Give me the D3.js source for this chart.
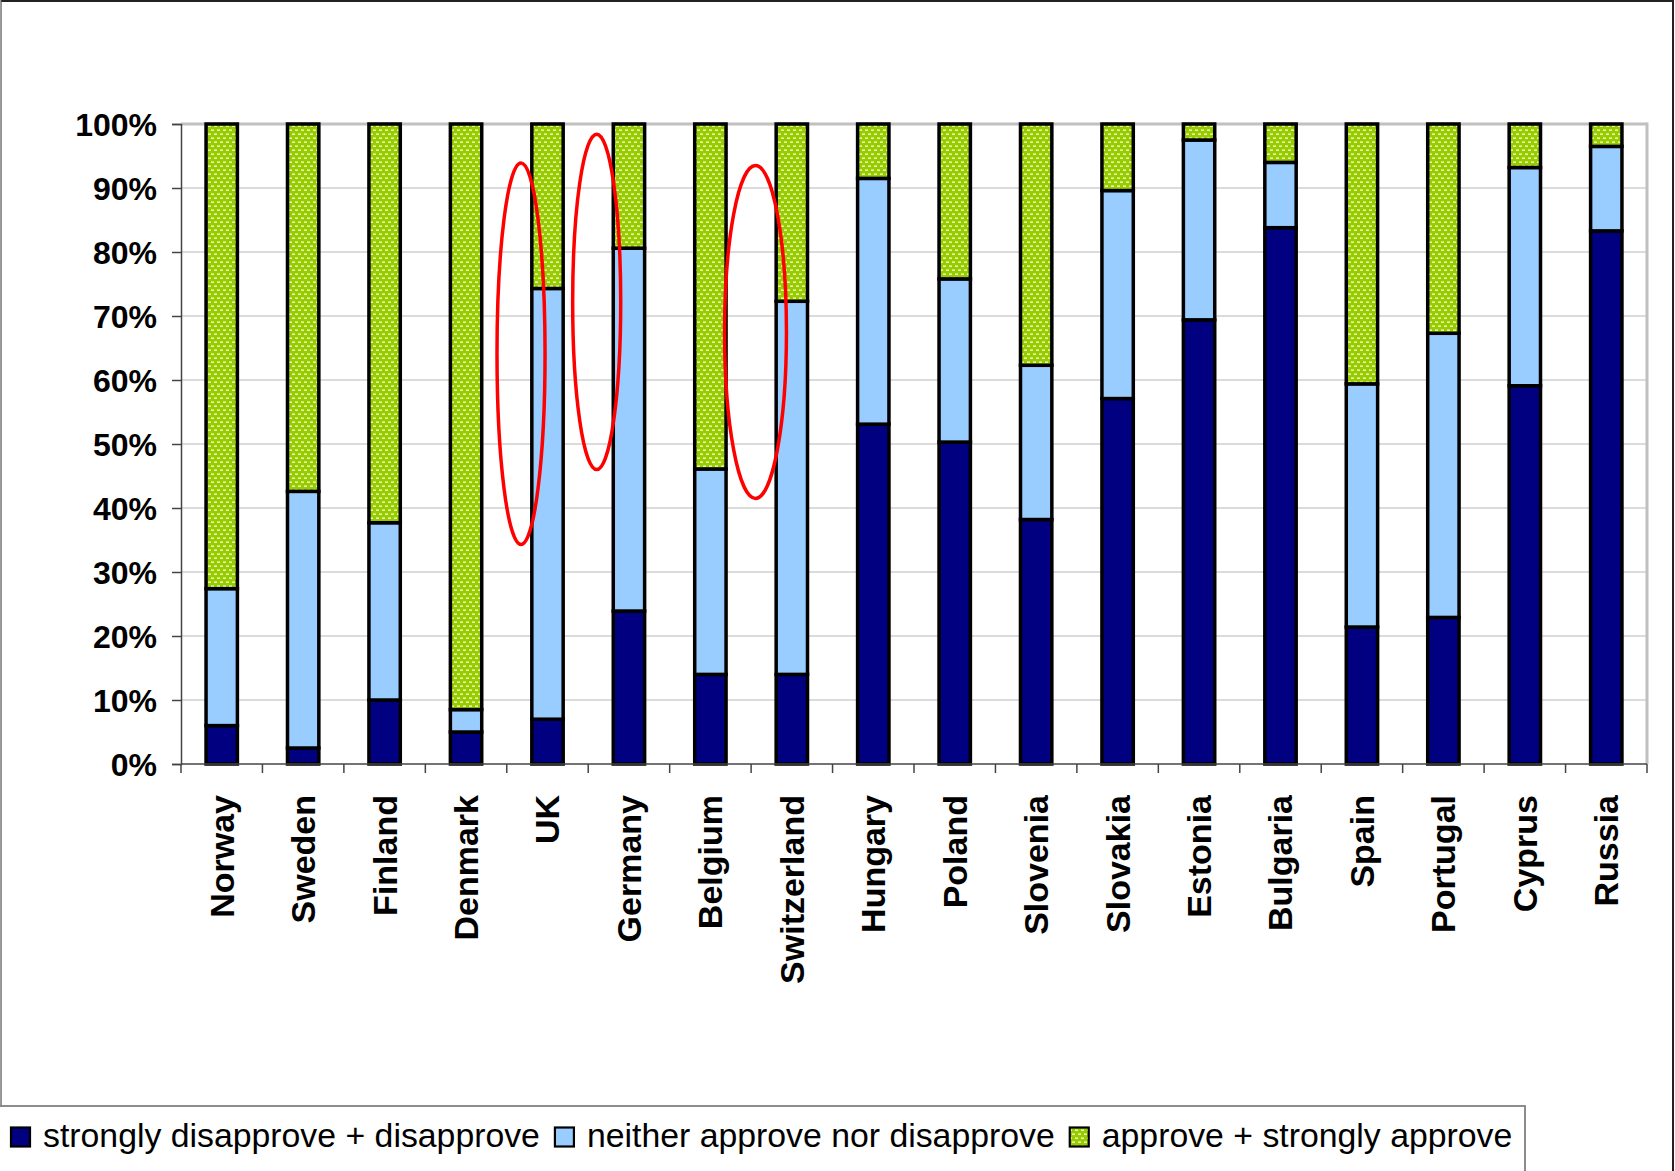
<!DOCTYPE html>
<html>
<head>
<meta charset="utf-8">
<script src="https://cdn.jsdelivr.net/npm/d3@7"></script>
<style>
  html, body { margin: 0; padding: 0; background: #fff; }
  svg { display: block; }
</style>
</head>
<body>
<svg id="chart" width="1675" height="1171"></svg>
<script>
// Attitudes by country, shares of respondents (%)
const countries = ["Norway", "Sweden", "Finland", "Denmark", "UK", "Germany", "Belgium", "Switzerland",
  "Hungary", "Poland", "Slovenia", "Slovakia", "Estonia", "Bulgaria", "Spain", "Portugal", "Cyprus", "Russia"];
const disapprove = [6.0, 2.5, 10.0, 5.0, 7.0, 23.9, 14.0, 14.0, 53.1, 50.3, 38.2, 57.1, 69.4, 83.8, 21.4, 22.9, 59.1, 83.3];
const neither    = [21.4, 40.1, 27.7, 3.5, 67.3, 56.7, 32.1, 58.3, 38.4, 25.5, 24.1, 32.5, 28.1, 10.2, 38.0, 44.4, 34.1, 13.2];
const approve    = [72.6, 57.4, 62.3, 91.5, 25.7, 19.4, 53.9, 27.7, 8.5, 24.2, 37.7, 10.4, 2.5, 6.0, 40.6, 32.7, 6.8, 3.5];
const seriesKeys = ["disapprove", "neither", "approve"];
const seriesLabels = ["strongly disapprove + disapprove", "neither approve nor disapprove", "approve + strongly approve"];
const yTicks = [0, 10, 20, 30, 40, 50, 60, 70, 80, 90, 100];

// Highlight rings: country, offset from bar centre (in bands), centre value and half-height (%), half-width (bands)
const highlightCountries = ["UK", "Germany", "Switzerland"];
const highlightOffsets = [-0.325, -0.396, -0.446];
const highlightCentres = [64.1, 72.2, 67.5];
const highlightHalfHeights = [29.8, 26.2, 26.0];
const highlightHalfWidths = [0.295, 0.295, 0.38];

const rows = countries.map((c, i) => ({
  country: c, disapprove: disapprove[i], neither: neither[i], approve: approve[i]
}));

const svg = d3.select("#chart");
const W = 1675, H = 1171;
const plot = { left: 181, right: 1647, top: 124, bottom: 764 };

const x = d3.scaleBand().domain(countries).range([plot.left, plot.right]).paddingInner(0).paddingOuter(0);
const y = d3.scaleLinear().domain([0, 100]).range([plot.bottom, plot.top]);
const color = d3.scaleOrdinal().domain(seriesKeys).range(["#000080", "#99ccff", "url(#confetti)"]);

// Green fill with small white dashes
const defs = svg.append("defs");
const pat = defs.append("pattern").attr("id", "confetti")
  .attr("patternUnits", "userSpaceOnUse").attr("width", 6).attr("height", 8);
pat.append("rect").attr("width", 6).attr("height", 8).attr("fill", "#99cc00");
pat.append("rect").attr("x", 1).attr("y", 1.5).attr("width", 3).attr("height", 1.3).attr("fill", "#f4ffd8");
pat.append("rect").attr("x", 4).attr("y", 5.5).attr("width", 2).attr("height", 1.3).attr("fill", "#f4ffd8");
pat.append("rect").attr("x", 0).attr("y", 5.5).attr("width", 1).attr("height", 1.3).attr("fill", "#f4ffd8");

// Outer frame
svg.append("rect").attr("x", 0.5).attr("y", 1).attr("width", W - 2.5).attr("height", H)
  .attr("fill", "#fff").attr("stroke", "#222").attr("stroke-width", 2);
svg.append("line").attr("x1", 0.5).attr("x2", 0.5).attr("y1", 0).attr("y2", H)
  .attr("stroke", "#9a9a9a").attr("stroke-width", 1.5);

// Gridlines
svg.append("g").selectAll("line").data(yTicks.filter(d => d > 0)).join("line")
  .attr("x1", plot.left).attr("x2", plot.right)
  .attr("y1", d => y(d)).attr("y2", d => y(d))
  .attr("stroke", d => d === 100 ? "#c0c0c0" : "#cfcfcf")
  .attr("stroke-width", d => d === 100 ? 3 : 1.5);
// Right edge of the plot area
svg.append("line").attr("x1", plot.right).attr("x2", plot.right)
  .attr("y1", plot.top - 1.5).attr("y2", plot.bottom)
  .attr("stroke", "#c0c0c0").attr("stroke-width", 3);

// Stacked bars
const stack = d3.stack().keys(seriesKeys);
const layers = stack(rows);
const barW = x.bandwidth() * 0.385;
svg.append("g").selectAll("g").data(layers).join("g")
  .attr("fill", d => color(d.key))
  .selectAll("rect").data(d => d).join("rect")
  .attr("x", d => x(d.data.country) + x.bandwidth() / 2 - barW / 2)
  .attr("y", d => y(d[1]))
  .attr("width", barW)
  .attr("height", d => y(d[0]) - y(d[1]))
  .attr("stroke", "#000").attr("stroke-width", 3.5);

// Y axis
const yAxis = d3.axisLeft(y).tickValues(yTicks).tickFormat(d => d + "%").tickSize(9).tickPadding(15);
const gy = svg.append("g").attr("transform", `translate(${plot.left},0)`).call(yAxis);
gy.select(".domain").attr("stroke", "#444").attr("stroke-width", 1.5);
gy.selectAll(".tick line").attr("stroke", "#444").attr("stroke-width", 1.5);
gy.selectAll("text").attr("font-family", "'Liberation Sans', Arial, sans-serif")
  .attr("font-weight", "bold").attr("font-size", 32).attr("fill", "#000").attr("dy", "0.36em");

// X axis: ticks at the band boundaries
const gx = svg.append("g").attr("transform", `translate(0,${plot.bottom})`);
gx.append("line").attr("x1", plot.left).attr("x2", plot.right).attr("stroke", "#444").attr("stroke-width", 1.5);
const bounds = countries.map(c => x(c)).concat([plot.right]);
gx.selectAll("line.tk").data(bounds).join("line").attr("class", "tk")
  .attr("x1", d => d).attr("x2", d => d).attr("y1", 0).attr("y2", 9)
  .attr("stroke", "#444").attr("stroke-width", 1.5);
gx.selectAll("text").data(countries).join("text")
  .attr("transform", d => `translate(${x(d) + x.bandwidth() / 2},31) rotate(-90)`)
  .attr("text-anchor", "end").attr("dy", "0.35em")
  .attr("font-family", "'Liberation Sans', Arial, sans-serif")
  .attr("font-weight", "bold").attr("font-size", 34).attr("fill", "#000")
  .text(d => d);

// Highlight rings
svg.append("g").selectAll("ellipse").data(highlightCountries).join("ellipse")
  .attr("cx", (d, i) => x(d) + x.bandwidth() * (0.5 + highlightOffsets[i]))
  .attr("cy", (d, i) => y(highlightCentres[i]))
  .attr("rx", (d, i) => x.bandwidth() * highlightHalfWidths[i])
  .attr("ry", (d, i) => y(0) - y(highlightHalfHeights[i]))
  .attr("fill", "none").attr("stroke", "#ff0000").attr("stroke-width", 3.5);

// Legend
const lg = svg.append("g");
lg.append("rect").attr("x", -2).attr("y", 1106).attr("width", 1527).attr("height", 100)
  .attr("fill", "#fff").attr("stroke", "#808080").attr("stroke-width", 1.8);
let lx = 11;
seriesKeys.forEach((k, i) => {
  lg.append("rect").attr("x", lx).attr("y", 1127.5).attr("width", 19).attr("height", 19)
    .attr("fill", color(k)).attr("stroke", "#000").attr("stroke-width", 2.2);
  const t = lg.append("text").attr("x", lx + 32).attr("y", 1147)
    .attr("font-family", "'Liberation Sans', Arial, sans-serif")
    .attr("font-size", 33.8).attr("fill", "#000").text(seriesLabels[i]);
  lx = lx + 32 + t.node().getComputedTextLength() + 15;
});
</script>
</body>
</html>
